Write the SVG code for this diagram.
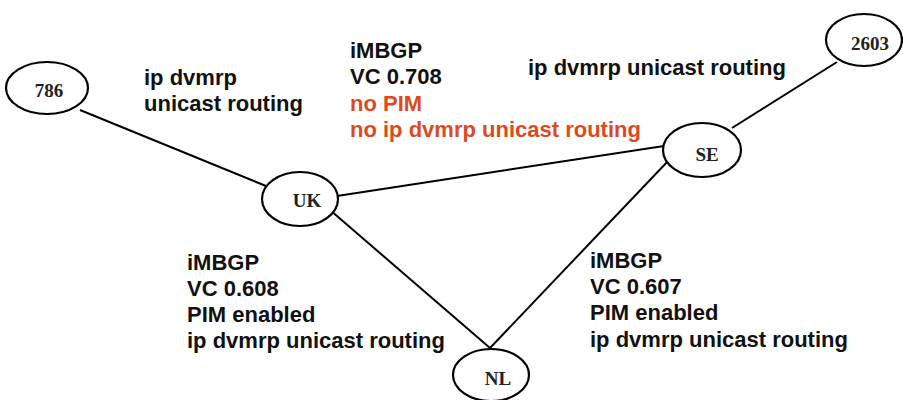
<svg xmlns="http://www.w3.org/2000/svg" width="903" height="400" viewBox="0 0 903 400">
<style>
.node ellipse{fill:#fff;stroke:#000;stroke-width:2.2}
.node text{font-family:"Liberation Serif","Times New Roman",serif;font-weight:bold;font-size:19px;text-anchor:middle;fill:#222}
.edges line{stroke:#000;stroke-width:2}
.lbl{font-family:"Liberation Sans",Arial,sans-serif;font-weight:bold;font-size:22px;fill:#111}
.red{fill:#dc4a1e}
</style>
<rect width="903" height="400" fill="#fff"/>
<g id="edges" class="edges">
<line x1="80" y1="110" x2="266" y2="186"/>
<line x1="337" y1="196" x2="664" y2="146"/>
<line x1="330" y1="210" x2="490" y2="348"/>
<line x1="669" y1="160" x2="490" y2="348"/>
<line x1="732" y1="128" x2="837" y2="62"/>
</g>
<g id="n786" class="node"><ellipse cx="47" cy="88" rx="41" ry="26"/><text x="49" y="97">786</text></g>
<g id="nUK" class="node"><ellipse cx="300" cy="199" rx="38" ry="27"/><text x="307" y="207">UK</text></g>
<g id="nSE" class="node"><ellipse cx="702" cy="150" rx="39" ry="27"/><text x="707" y="161">SE</text></g>
<g id="n2603" class="node"><ellipse cx="864" cy="40" rx="38" ry="26"/><text x="870" y="50">2603</text></g>
<g id="nNL" class="node"><ellipse cx="491" cy="375" rx="38" ry="26"/><text x="498" y="385">NL</text></g>
<g id="labels">
<text class="lbl" x="144" y="85">ip dvmrp</text>
<text class="lbl" x="144" y="111">unicast routing</text>
<text class="lbl" x="350" y="58">iMBGP</text>
<text class="lbl" x="350" y="84">VC 0.708</text>
<text class="lbl red" x="350" y="111">no PIM</text>
<text class="lbl red" x="350" y="137">no ip dvmrp unicast routing</text>
<text class="lbl" x="528" y="75">ip dvmrp unicast routing</text>
<text class="lbl" x="187" y="270">iMBGP</text>
<text class="lbl" x="187" y="296">VC 0.608</text>
<text class="lbl" x="187" y="322">PIM enabled</text>
<text class="lbl" x="187" y="348">ip dvmrp unicast routing</text>
<text class="lbl" x="590" y="268">iMBGP</text>
<text class="lbl" x="590" y="294">VC 0.607</text>
<text class="lbl" x="590" y="320">PIM enabled</text>
<text class="lbl" x="590" y="347">ip dvmrp unicast routing</text>
</g>
</svg>
